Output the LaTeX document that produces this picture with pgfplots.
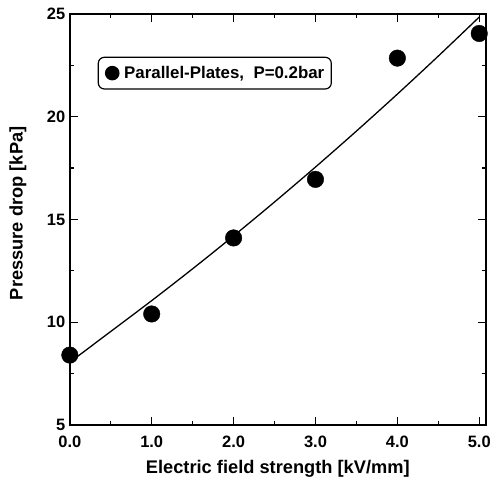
\documentclass[border=0pt]{standalone}
\usepackage{fontspec}
\setmainfont{Liberation Sans}
\usepackage{pgfplots}
\pgfplotsset{compat=1.18}
\begin{document}
\begin{tikzpicture}
\begin{axis}[name=ax, scale only axis, width=417pt, height=412pt,
 xmin=0, xmax=5.08, ymin=5, ymax=25,
 xtick={0,1,2,3,4,5}, xticklabels={0.0,1.0,2.0,3.0,4.0,5.0},
 ytick={5,10,15,20,25}, minor x tick num=1, minor y tick num=1,
 tick align=inside, major tick length=8pt, minor tick length=4pt,
 axis line style={line width=1.6pt}, tick style={line width=1.2pt, black},
 ticklabel style={font=\fontsize{16.5}{18}\selectfont\bfseries},
 xticklabel style={yshift=-8pt},
 yticklabel style={xshift=-1pt},
 /pgf/number format/assume math mode=true,
 xlabel={Electric field strength [kV/mm]}, ylabel={Pressure drop [kPa]},
 label style={font=\fontsize{18.3}{20}\selectfont\bfseries},
 xlabel style={at={(axis description cs:0.5,-0.107)}, anchor=center},
 ylabel style={at={(axis description cs:-0.125,0.515)}, anchor=center},
 clip=false,
 legend style={at={(axis description cs:0.067,0.896)}, anchor=north west, rounded corners=6pt, draw=black, line width=1.2pt, font=\fontsize{16.9}{19}\selectfont\bfseries, inner xsep=4pt, inner ysep=6pt, nodes={inner xsep=3pt, inner ysep=3pt}},
 legend cell align=left,
 legend image code/.code={\draw[mark size=6.7pt] plot coordinates {(10pt,0pt)}; \path[draw=none,fill=none] (0pt,0pt) -- (19pt,0pt);},
]
\addplot[only marks, mark=*, mark size=8.3pt, black] coordinates {(0,8.4) (1,10.4) (2,14.1) (3,16.95) (4,22.85) (5,24.05)};
\addlegendentry{Parallel-Plates,\ \ P=0.2bar}
\addplot[black, line width=1.3pt, smooth] coordinates {(0,8.05) (0.5,9.55) (1,11.05) (1.5,12.6) (2,14.2) (2.5,15.85) (3,17.55) (3.5,19.3) (4,21.1) (4.5,22.95) (5,24.85)};
\end{axis}
\path ([xshift=-70pt,yshift=-53pt]ax.south west) rectangle ([xshift=7pt,yshift=14pt]ax.north east);
\end{tikzpicture}
\end{document}
